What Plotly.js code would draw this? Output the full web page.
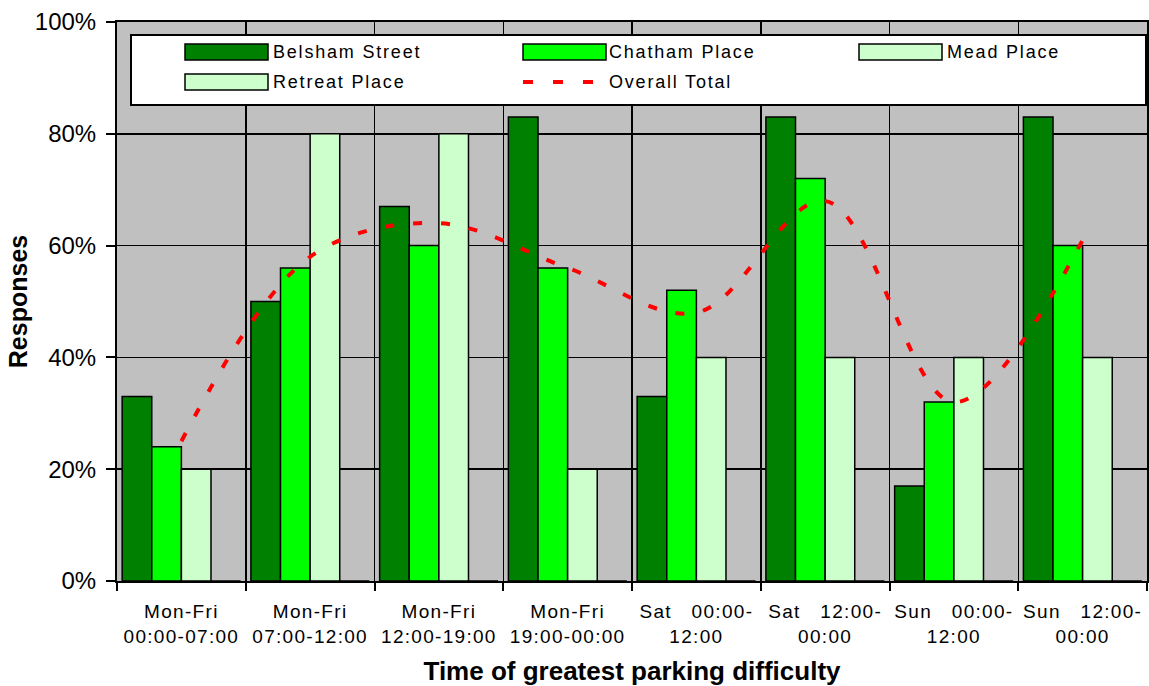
<!DOCTYPE html>
<html>
<head>
<meta charset="utf-8">
<script src="https://cdn.plot.ly/plotly-3.0.1.min.js"></script>
<style>
  html, body { margin: 0; padding: 0; background: #ffffff; }
  #chart { width: 1149px; height: 686px; }
  .xtick text { letter-spacing: 1.3px; }
  .annotation-text { letter-spacing: 1.8px; }
</style>
</head>
<body>
<div id="chart"></div>
<script>
// Time bands (categories on the x axis)
const categories = [
  "Mon-Fri<br>00:00-07:00",
  "Mon-Fri<br>07:00-12:00",
  "Mon-Fri<br>12:00-19:00",
  "Mon-Fri<br>19:00-00:00",
  "Sat\u00a0\u00a0\u00a000:00-<br>12:00",
  "Sat\u00a0\u00a0\u00a012:00-<br>00:00",
  "Sun\u00a0\u00a0\u00a000:00-<br>12:00",
  "Sun\u00a0\u00a0\u00a012:00-<br>00:00"
];

// Share of responses (%) per street
const belsham = [33, 50, 67, 83, 33, 83, 17, 83];
const chatham = [24, 56, 60, 56, 52, 72, 32, 60];
const mead = [20, 80, 80, 20, 40, 40, 40, 40];
const retreat = [0, 0, 0, 0, 0, 0, 0, 0];
const overallTotal = [25, 58, 64, 56, 48, 68, 32, 61];

const seriesNames = ["Belsham Street", "Chatham Place", "Mead Place", "Retreat Place", "Overall Total"];
const yTickValues = [0, 20, 40, 60, 80, 100];
const yTickLabels = ["0%", "20%", "40%", "60%", "80%", "100%"];

const barColors = ["#008000", "#00ff00", "#ccffcc", "#ccffcc"];
const lineColor = "#ff0000";
const FONT = "Liberation Sans, Arial, sans-serif";

const W = 1149, H = 686;
const M = { l: 117, r: 2, t: 22, b: 105 };
const plotW = W - M.l - M.r, plotH = H - M.t - M.b;
const px = x => (x - M.l) / plotW;
const py = y => (H - M.b - y) / plotH;

const barSeries = [belsham, chatham, mead, retreat];
const traces = barSeries.map((vals, i) => ({
  type: "bar",
  name: seriesNames[i],
  x: categories,
  y: vals,
  marker: { color: barColors[i], line: { color: "#000000", width: 1.5 } },
  hoverinfo: "skip"
}));
traces.push({
  type: "scatter",
  mode: "lines",
  name: seriesNames[4],
  x: categories,
  y: overallTotal,
  line: { color: lineColor, width: 4, dash: "9px,19px", shape: "spline", smoothing: 1 },
  hoverinfo: "skip"
});

// Hand-laid legend box: wide swatches in two rows, three columns
const legendBox = { x0: 131, x1: 1146, y0: 35, y1: 105 };
const legendItems = [
  { kind: "bar", idx: 0, sx: 185, tx: 271, y: 52 },
  { kind: "bar", idx: 1, sx: 523, tx: 607, y: 52 },
  { kind: "bar", idx: 2, sx: 859, tx: 945, y: 52 },
  { kind: "bar", idx: 3, sx: 185, tx: 271, y: 82 },
  { kind: "line", idx: 4, sx: 523, tx: 607, y: 82 }
];
const swatchW = 83, swatchH = 16;

const shapes = [{
  type: "rect", xref: "paper", yref: "paper", layer: "above",
  x0: px(legendBox.x0), x1: px(legendBox.x1), y0: py(legendBox.y1), y1: py(legendBox.y0),
  fillcolor: "#ffffff", line: { color: "#000000", width: 2 }
}];
const annotations = [];
legendItems.forEach(it => {
  if (it.kind === "bar") {
    shapes.push({
      type: "rect", xref: "paper", yref: "paper", layer: "above",
      x0: px(it.sx), x1: px(it.sx + swatchW),
      y0: py(it.y + swatchH / 2), y1: py(it.y - swatchH / 2),
      fillcolor: barColors[it.idx], line: { color: "#000000", width: 1.5 }
    });
  } else {
    shapes.push({
      type: "line", xref: "paper", yref: "paper", layer: "above",
      x0: px(it.sx), x1: px(it.sx + swatchW), y0: py(it.y), y1: py(it.y),
      line: { color: lineColor, width: 4, dash: "10px,20px" }
    });
  }
  annotations.push({
    xref: "paper", yref: "paper", x: px(it.tx), y: py(it.y),
    xanchor: "left", yanchor: "middle", showarrow: false,
    text: seriesNames[it.idx],
    font: { family: FONT, size: 18, color: "#000000" }
  });
});

const layout = {
  width: W, height: H,
  margin: M,
  paper_bgcolor: "#ffffff",
  plot_bgcolor: "#c0c0c0",
  barmode: "group",
  bargap: 0.08,
  bargroupgap: 0,
  showlegend: false,
  font: { family: FONT, color: "#000000" },
  xaxis: {
    type: "category",
    tickson: "boundaries",
    ticks: "outside", ticklen: 8, tickwidth: 2, tickcolor: "#000000",
    ticklabelstandoff: 12,
    showgrid: true, gridcolor: "#000000", gridwidth: 1.5,
    showline: true, linecolor: "#000000", linewidth: 2, mirror: true,
    tickfont: { family: FONT, size: 19, color: "#000000" },
    title: { text: "Time of greatest parking difficulty", font: { family: FONT, size: 26, color: "#000000", weight: "bold" }, standoff: 17 },
    automargin: false
  },
  yaxis: {
    range: [0, 100],
    tickmode: "array",
    tickvals: yTickValues,
    ticktext: yTickLabels,
    ticks: "outside", ticklen: 9, tickwidth: 2, tickcolor: "#000000",
    ticklabelstandoff: 5,
    showgrid: true, gridcolor: "#000000", gridwidth: 1.5,
    zeroline: false,
    showline: true, linecolor: "#000000", linewidth: 2, mirror: true,
    tickfont: { family: FONT, size: 24, color: "#000000" },
    title: { text: "Responses", font: { family: FONT, size: 25, color: "#000000", weight: "bold" }, standoff: 0 },
    automargin: false
  },
  shapes: shapes,
  annotations: annotations
};

Plotly.newPlot("chart", traces, layout, { staticPlot: true, displayModeBar: false });
</script>
</body>
</html>
